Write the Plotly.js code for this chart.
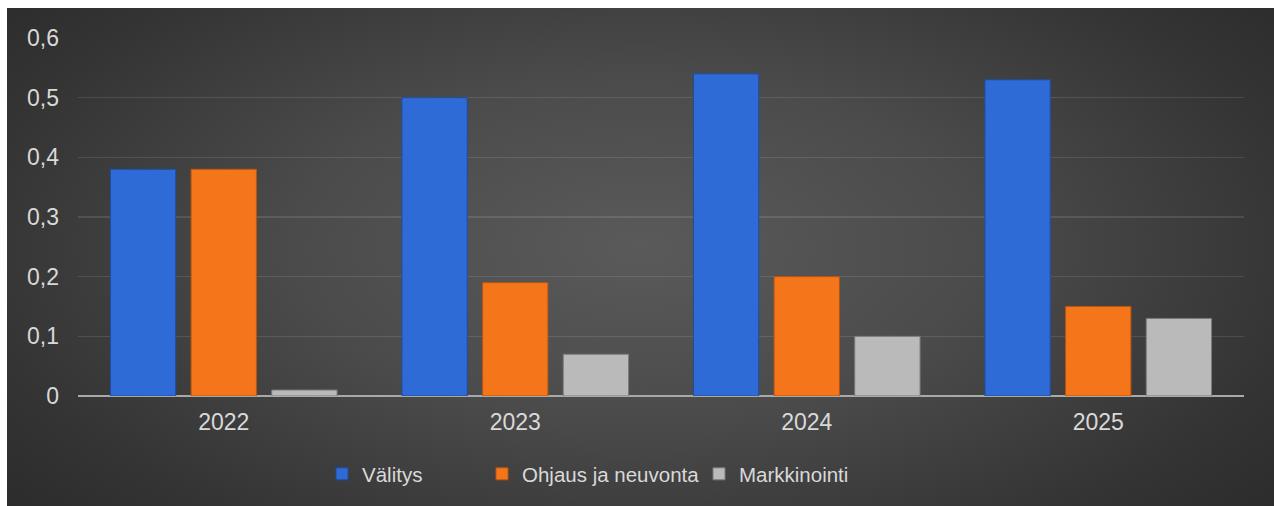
<!DOCTYPE html>
<html>
<head>
<meta charset="utf-8">
<script src="https://cdn.plot.ly/plotly-3.0.1.min.js"></script>
<style>
  html, body { margin: 0; padding: 0; background: #ffffff; width: 1274px; height: 506px; overflow: hidden; }
  #bg { position: absolute; left: 7px; top: 8px; right: 0; bottom: 0;
        background: radial-gradient(ellipse 68% 85% at 50% 48%, #5a5a5a 0%, #4b4b4b 40%, #343434 78%, #2a2a2a 100%); }
  #chart { position: absolute; left: 0; top: 0; width: 1274px; height: 506px; }
</style>
</head>
<body>
<div id="bg"></div>
<div id="chart"></div>
<script>
const years = ['2022', '2023', '2024', '2025'];
const valitys = [0.38, 0.50, 0.54, 0.53];
const ohjaus = [0.38, 0.19, 0.20, 0.15];
const markkinointi = [0.01, 0.07, 0.10, 0.13];
const seriesNames = ['Välitys', 'Ohjaus ja neuvonta', 'Markkinointi'];

const tickFont = { family: 'Liberation Sans, Arial, sans-serif', size: 23, color: '#d9d9d9' };
const legendFont = { family: 'Liberation Sans, Arial, sans-serif', size: 20.5, color: '#d9d9d9' };

const traces = [
  { type: 'bar', x: years, y: valitys, name: seriesNames[0], legend: 'legend',
    marker: { color: '#2f6bd6', line: { color: '#1f4c9e', width: 1 } } },
  { type: 'bar', x: years, y: ohjaus, name: seriesNames[1], legend: 'legend2',
    marker: { color: '#f5761a', line: { color: '#b85510', width: 1 } } },
  { type: 'bar', x: years, y: markkinointi, name: seriesNames[2], legend: 'legend3',
    marker: { color: '#bababa', line: { color: '#7a7a7a', width: 1 } } }
];

const legendBase = { orientation: 'h', xref: 'container', yref: 'container', yanchor: 'middle',
  y: 1 - 474 / 506, xanchor: 'left', bgcolor: 'rgba(0,0,0,0)', font: legendFont, itemwidth: 30 };

const layout = {
  width: 1274, height: 506,
  paper_bgcolor: 'rgba(0,0,0,0)', plot_bgcolor: 'rgba(0,0,0,0)',
  margin: { l: 78, r: 30, t: 38, b: 110 },
  separators: ', ',
  font: tickFont,
  barmode: 'group', bargap: 0.17, bargroupgap: 0.19,
  showlegend: true,
  legend: Object.assign({}, legendBase, { x: 322 / 1274 }),
  legend2: Object.assign({}, legendBase, { x: 482 / 1274 }),
  legend3: Object.assign({}, legendBase, { x: 699 / 1274 }),
  xaxis: { type: 'category', showgrid: false, showline: false, zeroline: false,
    ticks: '', tickfont: tickFont, ticklabelstandoff: 10 },
  yaxis: { range: [0, 0.6], dtick: 0.1, tick0: 0, showgrid: true, gridcolor: 'rgba(255,255,255,0.11)', gridwidth: 1.5,
    zeroline: true, zerolinecolor: '#a9a9a9', zerolinewidth: 2, showline: false, ticks: '',
    tickfont: tickFont, ticklabelstandoff: 18, fixedrange: true }
};

Plotly.newPlot('chart', traces, layout, { displayModeBar: false, staticPlot: true });
</script>
</body>
</html>
